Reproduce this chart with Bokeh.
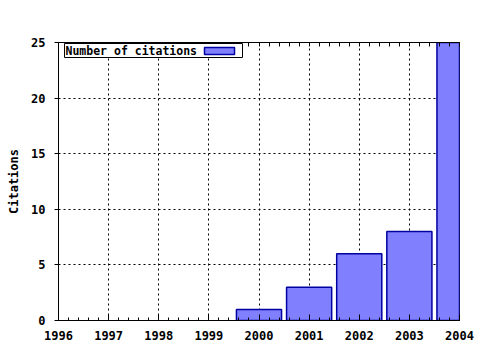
from bokeh.plotting import figure
from bokeh.models import (ColumnDataSource, LinearAxis, Label, BoxAnnotation,
                          FixedTicker, Range1d)
from bokeh.embed import file_html
from bokeh.resources import INLINE

years = [2000, 2001, 2002, 2003, 2004]
citations = [1, 3, 6, 8, 25]
x_ticks = [1996, 1997, 1998, 1999, 2000, 2001, 2002, 2003, 2004]
y_ticks = [0, 5, 10, 15, 20, 25]
series_name = "Number of citations"
y_title = "Citations"

FONT = "DejaVu Sans Mono"
FILL = "#8080ff"
EDGE = "#0000a0"

p = figure(width=480, height=350, output_backend="svg", toolbar_location=None,
           x_range=Range1d(1996, 2004), y_range=Range1d(0, 25),
           min_border_left=58, min_border_right=21, min_border_top=42,
           min_border_bottom=30)
p.background_fill_color = "white"
p.border_fill_color = "white"
p.outline_line_color = "black"
p.outline_line_width = 1

src = ColumnDataSource(dict(x=years, top=citations))
p.vbar(x="x", top="top", bottom=0, width=0.9, source=src,
       fill_color=FILL, line_color=EDGE, line_width=1.5)

minor = [1996 + i * 0.2 for i in range(41)]

for ax in list(p.xaxis) + list(p.yaxis):
    ax.axis_line_color = "black"
    ax.major_tick_line_color = "black"
    ax.minor_tick_line_color = "black"
    ax.major_label_text_font = FONT
    ax.major_label_text_font_style = "bold"
    ax.major_label_text_font_size = "12px"
    ax.major_label_text_color = "black"
    ax.axis_label_text_font = FONT
    ax.axis_label_text_font_style = "bold"
    ax.axis_label_text_font_size = "12px"
    ax.axis_label_text_color = "black"

for ax in p.xaxis:
    ax.ticker = FixedTicker(ticks=x_ticks, minor_ticks=minor)
    ax.major_tick_in = 6
    ax.major_tick_out = 0
    ax.minor_tick_in = 3
    ax.minor_tick_out = 0
    ax.major_label_standoff = 10

for ax in p.yaxis:
    ax.ticker = FixedTicker(ticks=y_ticks)
    ax.axis_label = y_title
    ax.major_tick_in = 0
    ax.major_tick_out = 4
    ax.minor_tick_line_color = None
    ax.major_label_standoff = 9
    ax.axis_label_standoff = 7

top_ax = LinearAxis(ticker=FixedTicker(ticks=[], minor_ticks=minor),
                    major_tick_in=0, major_tick_out=0,
                    minor_tick_in=4, minor_tick_out=0,
                    axis_line_color="black", minor_tick_line_color="black")
p.add_layout(top_ax, "above")

p.xgrid.ticker = FixedTicker(ticks=x_ticks)
p.ygrid.ticker = FixedTicker(ticks=y_ticks)
for g in list(p.xgrid) + list(p.ygrid):
    g.grid_line_color = "black"
    g.grid_line_dash = "2 3"
    g.grid_line_width = 1

# legend frame, text and sample (screen units relative to the plot frame)
frame = BoxAnnotation(left=6, right=184, top=277, bottom=263,
                      left_units="screen", right_units="screen",
                      top_units="screen", bottom_units="screen",
                      fill_color="white", fill_alpha=1,
                      line_color="black", line_width=1, line_alpha=1)
p.add_layout(frame)
leg = Label(x=7, y=270, x_units="screen", y_units="screen",
            text=series_name, text_font=FONT, text_font_style="bold",
            text_font_size="11.5px", text_color="black", text_baseline="middle")
p.add_layout(leg)
sample = BoxAnnotation(left=146, right=176, top=273, bottom=266,
                       left_units="screen", right_units="screen",
                       top_units="screen", bottom_units="screen",
                       fill_color=FILL, fill_alpha=1,
                       line_color=EDGE, line_width=1.5, line_alpha=1)
p.add_layout(sample)

open("out.html", "w").write(file_html(p, INLINE))
